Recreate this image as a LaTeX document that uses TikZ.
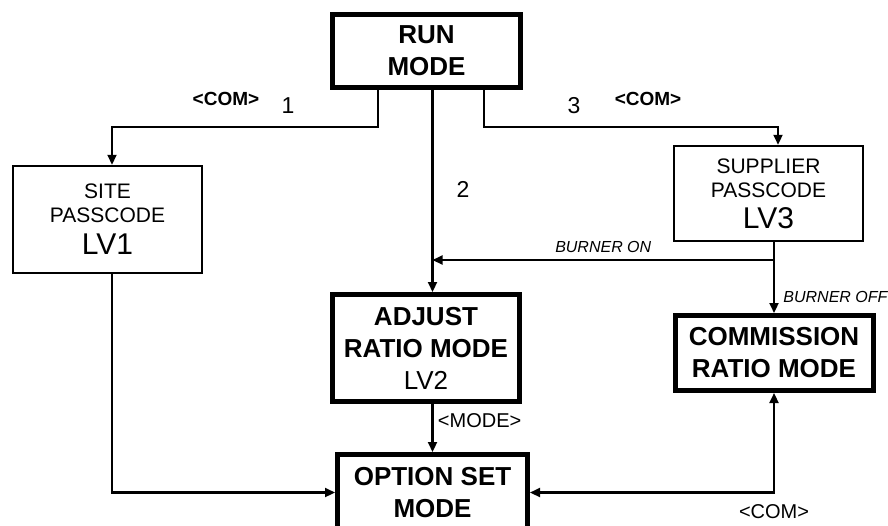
\documentclass[tikz,border=0pt]{standalone}
\usepackage{fontspec}
\setmainfont{Liberation Sans}
\usetikzlibrary{positioning,arrows.meta}

\begin{document}
\begin{tikzpicture}[
    x=1pt, y=-1pt,
    modebox/.style={draw, line width=5pt, align=center, inner sep=0pt, font=\fontsize{26}{32}\selectfont\bfseries},
    codebox/.style={draw, line width=2.5pt, align=center, inner sep=0pt, font=\fontsize{21}{24}\selectfont},
    line/.style={line width=2.2pt},
    arrow/.style={line, -{Triangle[length=10pt,width=9pt]}},
    both/.style={line, {Triangle[length=10pt,width=9pt]}-{Triangle[length=10pt,width=9pt]}},
    tag/.style={font=\fontsize{19}{19}\selectfont\bfseries},
    num/.style={font=\fontsize{23}{23}\selectfont},
    cond/.style={font=\fontsize{16}{16}\selectfont\itshape},
    key/.style={font=\fontsize{20}{20}\selectfont}
  ]
    \clip (0,0) rectangle (888,525);
    \node[modebox, minimum width=188pt, minimum height=73pt] (run) at (426.5,51) {RUN\\MODE};
    \node[codebox, minimum width=189pt, minimum height=107pt] (site) at (107.5,219.5) {SITE\\PASSCODE\\[8pt]{\fontsize{30}{30}\selectfont LV1}};
    \node[codebox, minimum width=189pt, minimum height=95pt] (supplier) at (768.5,193.5) {SUPPLIER\\PASSCODE\\[7pt]{\fontsize{30}{30}\selectfont LV3}};
    \node[modebox, minimum width=187pt, minimum height=107pt] (adjust) at (426,348) {ADJUST\\RATIO MODE\\{\mdseries LV2}};
    \node[modebox, minimum width=198pt, minimum height=75pt] (commission) at (774,353) {COMMISSION\\RATIO MODE};
    \node[modebox, minimum width=190pt, minimum height=76pt, anchor=north] (option) at (432.5,452) {OPTION SET\\MODE};
    \node[tag] (com1) at (226,99) {<COM>};
    \node[num] (one) at (288,106) {1};
    \node[num] (two) at (463,189) {2};
    \node[num] (three) at (574,106) {3};
    \node[tag] (com3) at (648,99) {<COM>};
    \coordinate (burner) at (commission.north |- 0,260);
    \draw[arrow] ([xshift=-48.5pt]run.south) -- ++(0,37) -| ([xshift=4.5pt]site.north);
    \draw[arrow] (run.south -| option.north) -- (adjust.north -| option.north);
    \draw[arrow] ([xshift=57.5pt]run.south) -- ++(0,37) -| ([xshift=9.5pt]supplier.north);
    \draw[line] (supplier.south -| burner) -- (burner);
    \draw[arrow] (burner) -- (burner -| option.north) node[midway, above=3pt, cond] {BURNER ON};
    \draw[arrow] (burner) -- (commission.north) node[pos=0.7, right=5pt, cond] {BURNER OFF};
    \draw[arrow] (adjust.south -| option.north) -- (option.north) node[pos=0.35, right=1pt, key] {<MODE>};
    \draw[arrow] ([xshift=4.5pt]site.south) |- (option.west);
    \draw[both] (option.east) -| (commission.south) node[pos=0.5, below=8pt, key] {<COM>};
  \end{tikzpicture}
\end{document}
